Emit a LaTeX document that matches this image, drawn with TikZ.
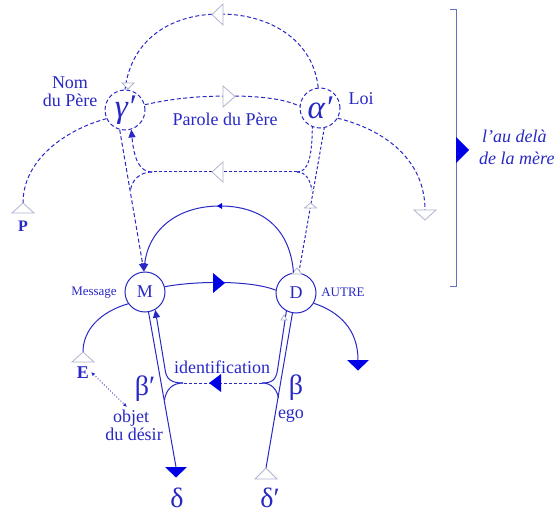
\documentclass[tikz,border=0pt]{standalone}
\usepackage{fontspec}
\setmainfont{Liberation Serif}
\usetikzlibrary{arrows.meta}
\definecolor{ink}{RGB}{40,40,196}
\definecolor{fillb}{RGB}{0,0,230}
\definecolor{pale}{RGB}{176,180,208}
\definecolor{brk}{RGB}{100,112,196}
\tikzset{
  lbl/.style={text=ink, font=\fontsize{18}{18}\selectfont, inner sep=0pt},
  small/.style={text=ink, font=\fontsize{13}{13}\selectfont, inner sep=0pt},
  grk/.style={text=ink, font=\fontsize{28}{28}\selectfont, inner sep=0pt},
  circ/.style={circle, draw=ink, line width=1pt, minimum size=40pt, inner sep=0pt, text=ink, font=\fontsize{18}{18}\selectfont},
  gcirc/.style={circ, dash pattern=on 4pt off 2.5pt, font=\fontsize{33}{33}\selectfont},
  sol/.style={draw=ink, line width=1pt},
  dsh/.style={draw=ink, line width=1pt, dash pattern=on 4pt off 2.5pt},
  fdsh/.style={draw=ink, line width=1pt, dash pattern=on 3pt off 2pt},
  otri/.style={draw=pale, fill=white, line width=0.8pt},
  ftri/.style={fill=fillb},
  tip/.style={-{Triangle[length=8pt,width=7pt]}},
}
\begin{document}
\begin{tikzpicture}[x=1pt,y=-1pt]
\useasboundingbox (0,0) rectangle (560,513);

% circles
\node[gcirc] (gam) at (125,110) {\itshape γ′};
\node[gcirc] (alp) at (320,108) {\itshape α′};
\node[circ] (M) at (145,292) {M};
\node[circ] (D) at (296,293) {D};

% named free ends
\coordinate (Ptip) at (23,203);
\coordinate (Rtip) at (425,210);
\coordinate (jR) at (297,172);
\coordinate (jL) at (152,172);
\coordinate (jbL) at (183,383);
\coordinate (jbR) at (262,383);
\coordinate (Etip) at (83,352);
\coordinate (Fend) at (358,360);
\coordinate (dtip) at (176,467);
\coordinate (dptip) at (266,468);

% top arc gamma' <- alpha'
\draw[dsh] (alp.95) .. controls (313,40) and (270,14) .. (220,14)
  .. controls (170,14) and (131,40) .. (gam.90);
\filldraw[otri] (223,4) -- (223,25) -- (212,14.5) -- cycle;
\filldraw[otri] (122,83) -- (134,83) -- (128,89) -- cycle;

% Parole du Pere
\draw[dsh] (gam.15) .. controls (175,98) and (200,96) .. (230,96)
  .. controls (260,96) and (285,99) .. (alp.175);
\filldraw[otri] (223,86) -- (223,107) -- (235,96.5) -- cycle;

% to P and to the right
\draw[dsh] (gam.205) .. controls (65,130) and (23,160) .. (Ptip);
\filldraw[otri] (12,213) -- (34,213) -- (Ptip) -- cycle;
\draw[dsh] (alp.-30) .. controls (385,130) and (425,160) .. (Rtip);
\filldraw[otri] (414,210) -- (436,210) -- (425,220) -- cycle;

% horizontal at 172
\draw[fdsh] (jR) -- (jL);
\filldraw[otri] (223,162) -- (223,182) -- (212,172) -- cycle;
\draw[fdsh] (jR) .. controls (308,172) and (312,158) .. (alp.-112);
\draw[fdsh] (jR) .. controls (306,172) and (310,180) .. (312,190);
\draw[dsh,tip] (jL) .. controls (140,172) and (134,160) .. (gam.-72);
\draw[dsh] (jL) .. controls (140,172) and (132,180) .. (130.5,190);

% D -> alpha'
\draw[fdsh] (D.82) -- (alp.-78);
\filldraw[otri] (304.5,208) -- (316.5,208) -- (310.5,203) -- cycle;
\filldraw[otri] (292,274) -- (302,274) -- (297,268) -- cycle;

% gamma' -> M
\draw[dsh,tip] (gam.-105) -- (M.93);

% solid arc D -> M
\draw[sol,tip] (D.97) .. controls (290,228) and (262,206) .. (220,206)
  .. controls (175,206) and (148,232) .. (M.93);
\fill[fillb] (222,203) -- (222,209) -- (217,206) -- cycle;

% M -> D
\draw[sol] (M.15) .. controls (195,281) and (250,280) .. (D.172);
\fill[ftri] (213,273) -- (213,293) -- (225,283) -- cycle;

% M -> E, D -> right
\draw[sol] (M.215) .. controls (100,312) and (83,330) .. (Etip);
\filldraw[otri] (72,362) -- (94,362) -- (Etip) -- cycle;
\draw[sol] (D.-30) .. controls (340,312) and (358,330) .. (Fend);
\fill[ftri] (347,360) -- (369,360) -- (358,370.5) -- cycle;

% M -> delta
\draw[sol] (M.-80) -- (dtip);
\fill[ftri] (165,467) -- (187,467) -- (176,477.5) -- cycle;
\draw[sol,tip] (jbL) .. controls (171,383) and (166,379) .. (165,369) -- (M.-60);
\draw[sol] (jbL) .. controls (172,383) and (166,390) .. (164.5,400);

% identification
\draw[fdsh] (jbR) -- (jbL);
\fill[ftri] (221,374) -- (221,392) -- (209,383) -- cycle;

% delta' -> D
\draw[sol] (dptip) -- (D.-100);
\filldraw[otri] (255,479) -- (277,479) -- (dptip) -- cycle;
\draw[sol] (D.-118) -- (277.5,370) .. controls (276,380) and (272,383) .. (jbR);
\draw[sol] (jbR) .. controls (272,383) and (277,390) .. (278.5,398);
\filldraw[otri] (281,320) -- (287,320) -- (284,315) -- cycle;

% labels
\node[lbl, anchor=base] (nom) at (70,89) {Nom};
\node[lbl, anchor=base] (dupere) at (70,107) {du Père};
\node[lbl, anchor=base] (parole) at (225,126) {Parole du Père};
\node[lbl, anchor=base] (loi) at (361,105) {Loi};
\node[small, anchor=base] (msg) at (94,296) {Message};
\node[small, anchor=base] (autre) at (343,297) {AUTRE};
\node[lbl, anchor=base, font=\fontsize{18}{18}\selectfont\bfseries] (E) at (83,378) {E};
\node[lbl, anchor=base, font=\fontsize{16}{16}\selectfont\bfseries] (P) at (23,232) {P};
\node[lbl, anchor=base] (ident) at (222,373) {identification};
\node[grk] (bp) at (145,389) {β′};
\node[grk] (b) at (296,388) {β};
\node[lbl, anchor=base] (ego) at (291,418) {ego};
\node[lbl, anchor=base] (objet) at (131,422) {objet};
\node[lbl, anchor=base] (desir) at (134,440) {du désir};
\node[grk] (d) at (177,498) {δ};
\node[grk] (dp) at (270,498) {δ′};

% E <-> objet
\coordinate (eo1) at (91,372);
\coordinate (eo2) at (127,407);
\draw[ink, line width=0.9pt, dotted, {Latex[length=4pt,width=3.5pt]}-{Latex[length=4pt,width=3.5pt]}] (eo1) -- (eo2);

% bracket
\draw[brk, line width=1pt] (450,10) -- (456,10) -- (456,287) -- (450,287);
\fill[ftri] (456,137) -- (469,150) -- (456,163) -- cycle;
\node[lbl, anchor=base west, font=\fontsize{18}{18}\selectfont\itshape] (au) at (482,143) {l'au delà};
\node[lbl, anchor=base west, font=\fontsize{18}{18}\selectfont\itshape] (mere) at (479,165) {de la mère};
\end{tikzpicture}
\end{document}
